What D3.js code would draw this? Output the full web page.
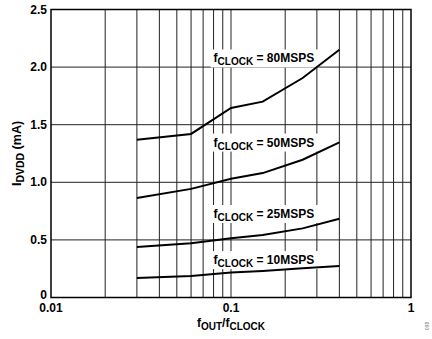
<!DOCTYPE html>
<html>
<head>
<meta charset="utf-8">
<script src="https://cdn.jsdelivr.net/npm/d3@7"></script>
<style>
  body { margin: 0; background: #fff; }
  text { font-family: "Liberation Sans", Arial, sans-serif; font-weight: bold; }
</style>
</head>
<body>
<svg width="432" height="339"></svg>
<script>
var ratios = [0.03, 0.06, 0.1, 0.15, 0.25, 0.4];
var idd80 = [1.37, 1.42, 1.645, 1.70, 1.905, 2.15];
var idd50 = [0.863, 0.943, 1.03, 1.08, 1.196, 1.346];
var idd25 = [0.439, 0.471, 0.515, 0.543, 0.60, 0.683];
var idd10 = [0.170, 0.187, 0.216, 0.230, 0.254, 0.274];
var clocks = ["80MSPS", "50MSPS", "25MSPS", "10MSPS"];
var labelY = [2.04, 1.31, 0.69, 0.29];
var yTicks = [0, 0.5, 1.0, 1.5, 2.0, 2.5];
var xTicks = [0.01, 0.1, 1];

var series = [idd80, idd50, idd25, idd10];
var margin = {left: 51, right: 21, top: 9.5, bottom: 41.5};
var width = 432, height = 339;

var x = d3.scaleLog().domain([0.01, 1]).range([margin.left, width - margin.right]);
var y = d3.scaleLinear().domain([0, 2.5]).range([height - margin.bottom, margin.top]);

var svg = d3.select('svg');

// grid
var minor = [];
[0.01, 0.1].forEach(function (d) {
  for (var k = 2; k <= 9; k++) minor.push(d * k);
});
minor.push(0.1);
svg.append('g').selectAll('line')
  .data(minor)
  .enter().append('line')
  .attr('x1', function (d) { return x(d); })
  .attr('x2', function (d) { return x(d); })
  .attr('y1', y(0)).attr('y2', y(2.5))
  .attr('stroke', '#222').attr('stroke-width', 1);

svg.append('g').selectAll('line')
  .data(yTicks)
  .enter().append('line')
  .attr('x1', x(0.01)).attr('x2', x(1))
  .attr('y1', function (d) { return y(d); })
  .attr('y2', function (d) { return y(d); })
  .attr('stroke', '#222').attr('stroke-width', 1);

// frame
svg.append('rect')
  .attr('x', x(0.01)).attr('y', y(2.5))
  .attr('width', x(1) - x(0.01)).attr('height', y(0) - y(2.5))
  .attr('fill', 'none').attr('stroke', '#000').attr('stroke-width', 1.5);

// label boxes
svg.append('g').selectAll('rect')
  .data(labelY)
  .enter().append('rect')
  .attr('x', x(0.08) - 3)
  .attr('y', function (d) { return y(d) - 13; })
  .attr('width', 108).attr('height', 18)
  .attr('fill', '#fff');

// curves
var line = d3.line()
  .x(function (d, i) { return x(ratios[i]); })
  .y(function (d) { return y(d); });

svg.append('g').selectAll('path')
  .data(series)
  .enter().append('path')
  .attr('d', line)
  .attr('fill', 'none')
  .attr('stroke', '#000')
  .attr('stroke-width', 2);

// curve labels
var lab = svg.append('g').selectAll('text')
  .data(clocks)
  .enter().append('text')
  .attr('x', x(0.08))
  .attr('y', function (d, i) { return y(labelY[i]); })
  .style('font-size', '12px');
lab.append('tspan').text('f');
lab.append('tspan').attr('dy', 3).style('font-size', '10px').text('CLOCK');
lab.append('tspan').attr('dy', -3).text(function (d) { return ' = ' + d; });

// tick labels
svg.append('g').selectAll('text')
  .data(yTicks)
  .enter().append('text')
  .attr('x', margin.left - 4)
  .attr('y', function (d) { return y(d) + (d === 0 ? 1 : 4); })
  .attr('text-anchor', 'end')
  .style('font-size', '12px')
  .text(function (d) { return d === 0 ? '0' : d.toFixed(1); });

svg.append('g').selectAll('text')
  .data(xTicks)
  .enter().append('text')
  .attr('x', function (d) { return x(d); })
  .attr('y', y(0) + 14)
  .attr('text-anchor', 'middle')
  .style('font-size', '12px')
  .text(function (d) { return String(d); });

// axis titles
var xt = svg.append('text')
  .attr('x', (x(0.01) + x(1)) / 2)
  .attr('y', 327)
  .attr('text-anchor', 'middle')
  .style('font-size', '12px');
xt.append('tspan').text('f');
xt.append('tspan').attr('dy', 3).style('font-size', '10px').text('OUT');
xt.append('tspan').attr('dy', -3).text('/f');
xt.append('tspan').attr('dy', 3).style('font-size', '10px').text('CLOCK');

var yt = svg.append('text')
  .attr('transform', 'translate(21,' + ((y(0) + y(2.5)) / 2) + ') rotate(-90)')
  .attr('text-anchor', 'middle')
  .style('font-size', '12.5px');
yt.append('tspan').text('I');
yt.append('tspan').attr('dy', 3).style('font-size', '10.5px').text('DVDD');
yt.append('tspan').attr('dy', -3).text(' (mA)');

svg.append('text')
  .attr('transform', 'translate(429,326) rotate(-90)')
  .attr('text-anchor', 'middle')
  .style('font-size', '5px')
  .style('font-weight', 'normal')
  .attr('fill', '#777')
  .text('098');
</script>
</body>
</html>
